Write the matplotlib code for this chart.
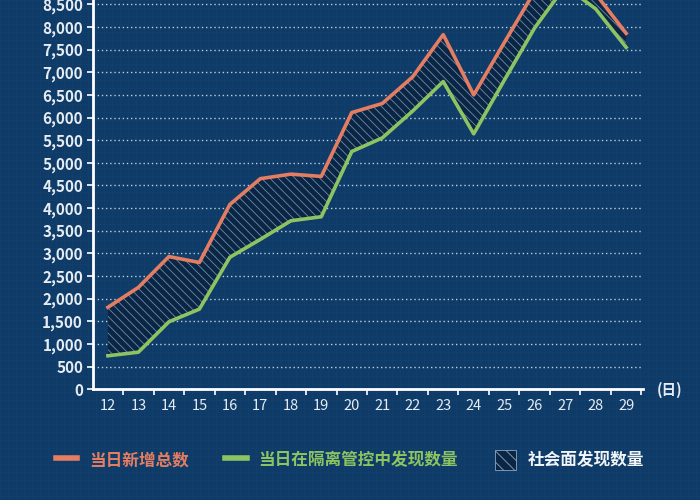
import matplotlib
matplotlib.use('Agg')
import matplotlib.pyplot as plt
import numpy as np
from matplotlib.lines import Line2D
from matplotlib.patches import Patch
from matplotlib.ticker import FuncFormatter, MultipleLocator

plt.rcParams['font.family'] = ['Noto Sans CJK SC', 'DejaVu Sans']
plt.rcParams['hatch.linewidth'] = 0.6
plt.rcParams['hatch.color'] = '#6f8cab'

# data (values above ~8600 are cut off in the original)
days = [12, 13, 14, 15, 16, 17, 18, 19, 20, 21, 22, 23, 24, 25, 26, 27, 28, 29]
total = [1810, 2250, 2930, 2800, 4080, 4650, 4750, 4700, 6110, 6310, 6900, 7830,
         6500, 7650, 8790, 9500, 8730, 7860]
isolated = [740, 820, 1490, 1770, 2915, 3310, 3720, 3810, 5250, 5550, 6145, 6795,
            5640, 6820, 7980, 8900, 8400, 7550]
labels = ['当日新增总数', '当日在隔离管控中发现数量', '社会面发现数量']

bg = '#0e3b67'
orange = '#e47d62'
green = '#8dc462'
txt = '#e6ecf2'

fig = plt.figure(figsize=(7, 5), dpi=100, facecolor=bg)

# faint blueprint grid in the background
bgax = fig.add_axes([0, 0, 1, 1], zorder=-5)
bgax.set_xlim(0, 700)
bgax.set_ylim(500, 0)
bgax.set_facecolor(bg)
for v in np.arange(0, 701, 8):
    bgax.axvline(v, color='#1b4877', lw=0.5, alpha=0.35)
for v in np.arange(0, 501, 8):
    bgax.axhline(v, color='#1b4877', lw=0.5, alpha=0.35)
bgax.axis('off')

ax = fig.add_axes([0.1324, 0.2214, 0.786, 0.7786])
ax.patch.set_alpha(0)

ax.fill_between(days, isolated, total, facecolor='#0a2644', edgecolor='#6f8cab',
                hatch='\\\\\\\\', linewidth=0, zorder=2)
ax.plot(days, total, color=orange, lw=2.6, zorder=4)
ax.plot(days, isolated, color=green, lw=2.6, zorder=4)

ax.set_xlim(11.5, 29.55)
ax.set_ylim(0, 8595)
ax.yaxis.set_major_locator(MultipleLocator(500))
ax.yaxis.set_major_formatter(FuncFormatter(lambda v, p: f'{int(v):,}'))
ax.set_xticks(days)
ax.set_xticks(np.arange(12.5, 29.6, 1), minor=True)
ax.tick_params(axis='x', which='major', length=0, pad=7, colors=txt, labelsize=10.5)
ax.tick_params(axis='x', which='minor', length=4, width=1.2, color='white')
ax.tick_params(axis='y', length=4, width=1.2, color='white', colors=txt, labelsize=11, pad=3)
for lab in ax.get_yticklabels():
    lab.set_fontweight('bold')

ax.yaxis.grid(True, color='#d3deea', linestyle=(0, (1, 2)), lw=1.0, alpha=0.9)
ax.set_axisbelow(True)
for s in ['top', 'right']:
    ax.spines[s].set_visible(False)
for s in ['left', 'bottom']:
    ax.spines[s].set_color('white')
    ax.spines[s].set_linewidth(2)

fig.text(670 / 700, 1 - 390 / 500, '(日)', color=txt, fontsize=10.5,
         fontweight='bold', ha='center', va='center')

handles = [Line2D([0], [0], color=orange, lw=4),
           Line2D([0], [0], color=green, lw=4),
           Patch(facecolor='#0a2644', edgecolor='#8ea6c0', hatch='\\\\\\', lw=0.6)]
leg = fig.legend(handles, labels, loc='center', bbox_to_anchor=(0.5, 0.08), ncol=3,
                 frameon=False, prop={'weight': 'bold', 'size': 12},
                 handlelength=1.3, handleheight=1.4, handletextpad=0.7, columnspacing=2.2)
for t, c in zip(leg.get_texts(), [orange, green, '#f2f5f8']):
    t.set_color(c)

fig.savefig('out.png', dpi=100, facecolor=bg)
